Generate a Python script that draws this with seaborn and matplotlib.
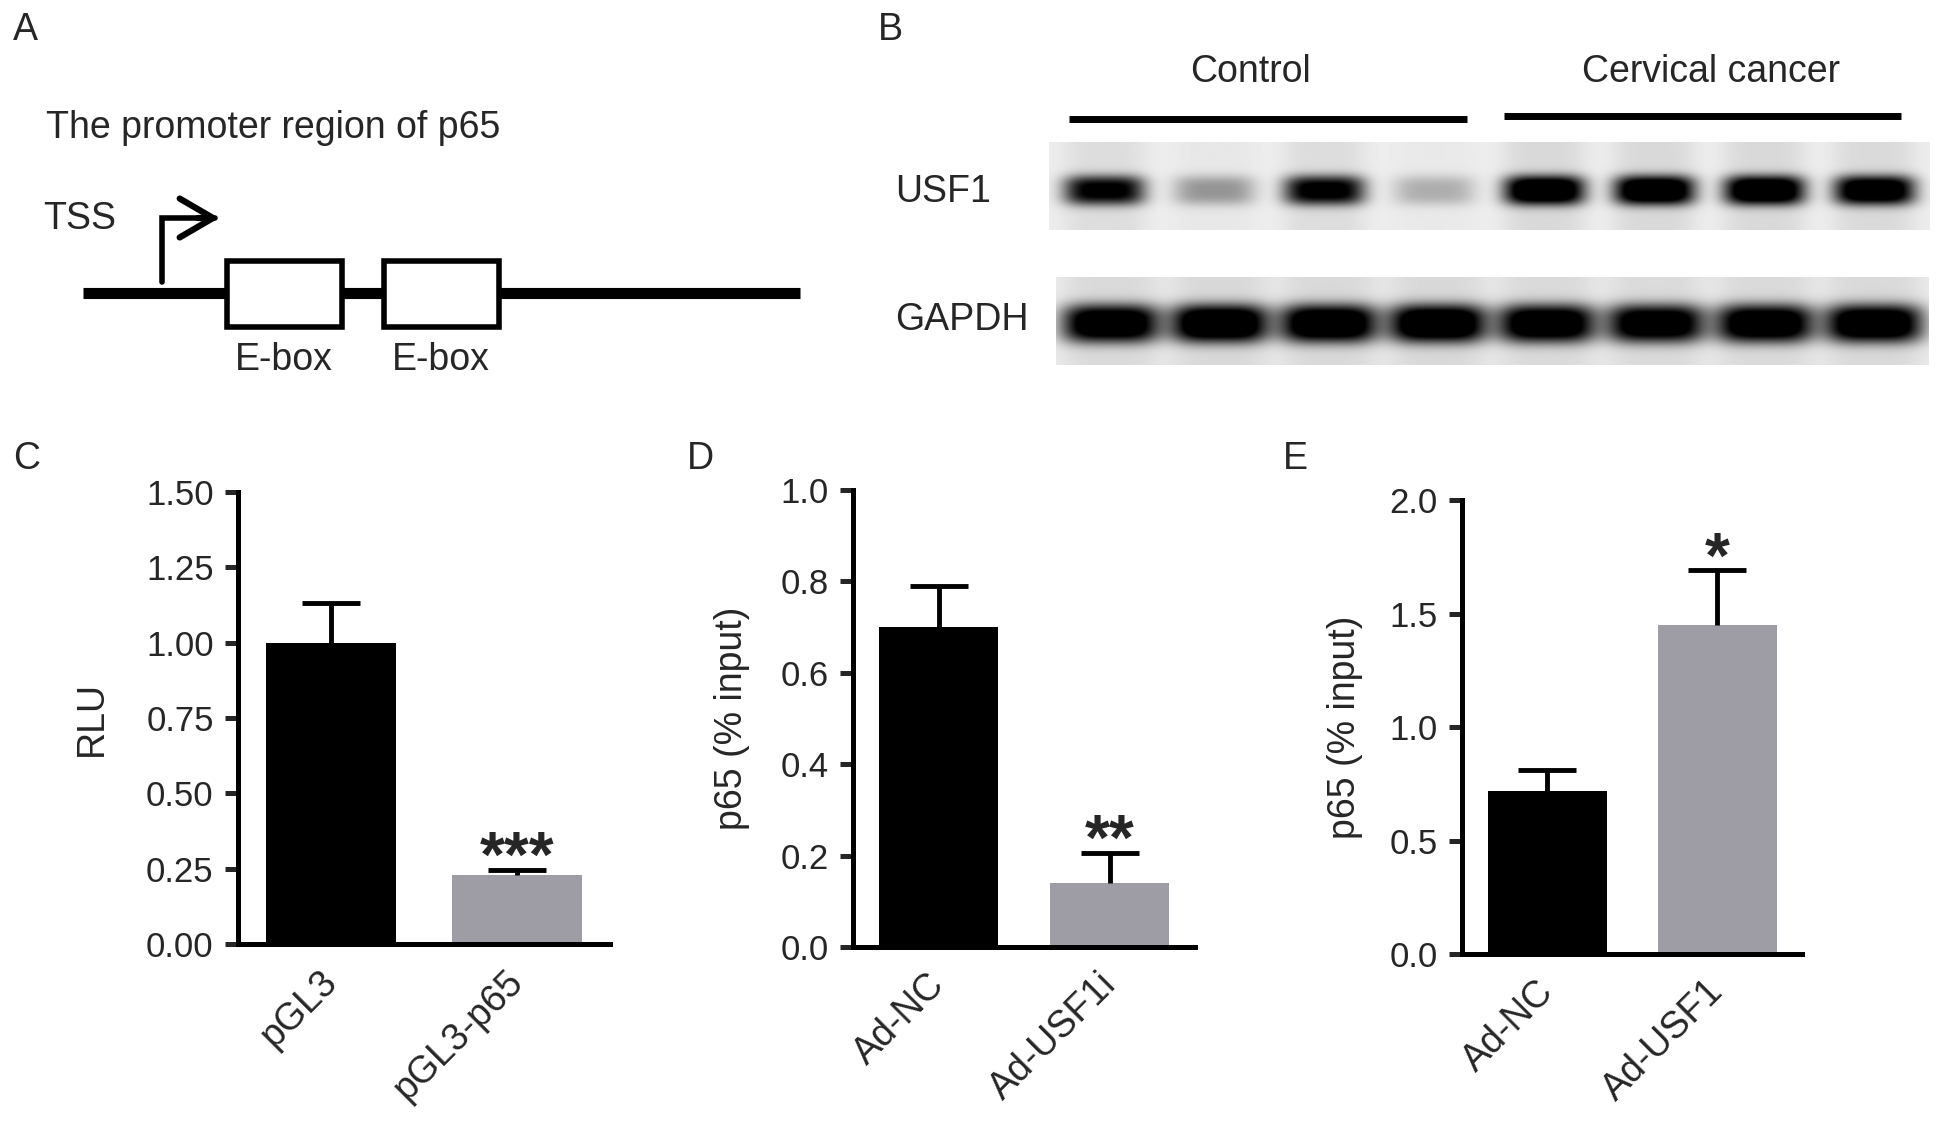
import numpy as np
import pandas as pd
import seaborn as sns
import matplotlib.pyplot as plt
import matplotlib.transforms as mtransforms
from matplotlib.patches import Rectangle, FancyArrowPatch

sns.set_style('white')
plt.rcParams['font.family'] = ['Liberation Sans', 'DejaVu Sans']

# ---- data ----
c_groups = ['pGL3', 'pGL3-p65']
c_means = [1.00, 0.23]
c_sem = [0.13, 0.015]

d_groups = ['Ad-NC', 'Ad-USF1i']
d_means = [0.70, 0.14]
d_sem = [0.09, 0.065]

e_groups = ['Ad-NC', 'Ad-USF1']
e_means = [0.72, 1.45]
e_sem = [0.09, 0.24]

blot_groups = ['Control', 'Cervical cancer']
usf1_band = [0.80, 0.28, 0.82, 0.20, 1.0, 1.0, 1.0, 0.95]
gapdh_band = [0.95, 1.0, 0.98, 1.0, 0.95, 0.92, 0.95, 0.97]

BLACK = '#000000'
GRAY = '#9e9da5'
W, H = 1937, 1134

fig = plt.figure(figsize=(W / 100, H / 100), dpi=100)

# overlay in pixel coords for schematic text
ov = fig.add_axes([0, 0, 1, 1])
ov.set_xlim(0, W)
ov.set_ylim(H, 0)
ov.axis('off')


def px_axes(x0, y0, x1, y1):
    return fig.add_axes([x0 / W, 1 - y1 / H, (x1 - x0) / W, (y1 - y0) / H])


# panel letters
for letter, (lx, ly) in zip('ABCDE', [(13, 12), (878, 12), (13, 441), (687, 441), (1283, 441)]):
    ov.text(lx, ly, letter, fontsize=27, ha='left', va='top')

# ---- A: promoter schematic ----
ov.text(46, 128, 'The promoter region of p65', fontsize=27, ha='left', va='center')
ov.text(43, 219, 'TSS', fontsize=27, ha='left', va='center')
ov.plot([83, 800], [293, 293], color='k', lw=8, solid_capstyle='butt', zorder=2)
ov.plot([162, 162, 215], [282, 218, 218], color='k', lw=4, solid_joinstyle='miter', zorder=2)
ov.add_patch(FancyArrowPatch((195, 218), (222, 218), arrowstyle='->,head_length=24,head_width=14',
                             mutation_scale=1, lw=4.5, color='k', zorder=2))
for bx, blabel in [(227, 'E-box'), (384, 'E-box')]:
    ov.add_patch(Rectangle((bx, 261), 115, 66, facecolor='white', edgecolor='k', lw=4, zorder=3))
    ov.text(bx + 57, 360, blabel, fontsize=27, ha='center', va='center')

# ---- B: western blot ----
ov.text(1251, 72, blot_groups[0], fontsize=27, ha='center', va='center')
ov.text(1711, 72, blot_groups[1], fontsize=27, ha='center', va='center')
ov.plot([1069, 1467], [119, 119], color='k', lw=5, solid_capstyle='butt')
ov.plot([1504, 1901], [116, 116], color='k', lw=5, solid_capstyle='butt')
ov.text(895, 192, 'USF1', fontsize=27, ha='left', va='center')
ov.text(895, 320, 'GAPDH', fontsize=27, ha='left', va='center')


def blot_image(levels, vc, wx, wy):
    u = np.linspace(0, len(levels), 880)
    v = np.linspace(0, 1, 90)
    U, V = np.meshgrid(u, v)
    band = np.zeros_like(U)
    smear = np.zeros_like(U)
    for k, lev in enumerate(levels):
        lane = np.exp(-(np.abs(U - (k + 0.5)) / wx) ** 4)
        band += lev * lane * np.exp(-(np.abs(V - vc) / wy) ** 3)
        smear += 0.08 * lev * lane
    band = np.clip(band * 1.25, 0, 1)
    bg = 0.07
    return np.clip(bg + smear + (1 - bg) * band, 0, 1)


for (x0, y0, x1, y1), levels, vc, wx, wy in [
        ((1049, 142, 1929, 230), usf1_band, 0.55, 0.37, 0.17),
        ((1056, 277, 1929, 365), gapdh_band, 0.53, 0.45, 0.22)]:
    bax = px_axes(x0, y0, x1, y1)
    bax.imshow(blot_image(levels, vc, wx, wy), cmap='gray_r', vmin=0, vmax=1,
               extent=[0, len(levels), 1, 0], aspect='auto', interpolation='bilinear')
    bax.axis('off')


# ---- C, D, E: bar charts ----
def bar_panel(box, groups, means, sems, ymax, yticks, fmt, ylabel, stars, ylab_x):
    ax = px_axes(*box)
    df = pd.DataFrame({'group': groups, 'value': means})
    sns.barplot(data=df, x='group', y='value', hue='group', palette=[BLACK, GRAY],
                width=0.7, saturation=1, linewidth=0, legend=False, ax=ax)
    _, caps, _ = ax.errorbar([0, 1], means, yerr=[[0, 0], sems], fmt='none', ecolor='k',
                             elinewidth=3.5, capsize=21, capthick=3.5, zorder=5)
    caps[0].set_visible(False)
    top = means[1] + sems[1]
    ax.annotate(stars, (1, top), xytext=(0, -5), textcoords='offset points',
                ha='center', va='baseline', fontsize=46, fontweight='bold')
    ax.set_xlim(-0.5, 1.5)
    ax.set_ylim(0, ymax)
    ax.set_yticks(yticks)
    ax.set_yticklabels([fmt.format(t) for t in yticks])
    ax.set_xticks([0, 1])
    ax.set_xticklabels(groups, rotation=45, ha='right', rotation_mode='anchor')
    for s in ['top', 'right']:
        ax.spines[s].set_visible(False)
    for s in ['left', 'bottom']:
        ax.spines[s].set_linewidth(3.6)
        ax.spines[s].set_color('k')
    ax.tick_params(axis='y', length=9.5, width=3.6, labelsize=25, pad=8, left=True)
    ax.tick_params(axis='x', length=0, labelsize=27, pad=14)
    offset = mtransforms.ScaledTranslation(-0.12, 0, fig.dpi_scale_trans)
    for lab in ax.get_xticklabels():
        lab.set_transform(lab.get_transform() + offset)
    ax.set_xlabel('')
    ax.set_ylabel(ylabel, fontsize=27)
    ax.yaxis.set_label_coords(ylab_x, 0.5)
    ax.patch.set_alpha(0)
    return ax


bar_panel((238, 492, 610, 944), c_groups, c_means, c_sem, 1.5,
          [0, 0.25, 0.5, 0.75, 1.0, 1.25, 1.5], '{:.2f}', 'RLU', '***', -0.345)
bar_panel((853, 490, 1195, 947), d_groups, d_means, d_sem, 1.0,
          [0, 0.2, 0.4, 0.6, 0.8, 1.0], '{:.1f}', 'p65 (% input)', '**', -0.30)
bar_panel((1462, 500, 1802, 954), e_groups, e_means, e_sem, 2.0,
          [0, 0.5, 1.0, 1.5, 2.0], '{:.1f}', 'p65 (% input)', '*', -0.29)

fig.savefig('out.png', dpi=100)
